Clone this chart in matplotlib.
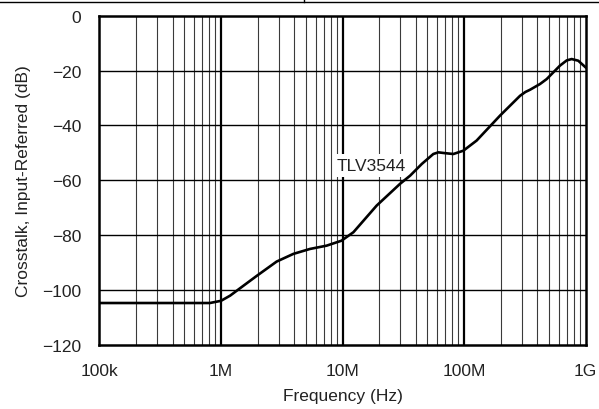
import matplotlib.pyplot as plt
from matplotlib.lines import Line2D
from matplotlib.ticker import FixedLocator, NullFormatter

plt.rcParams['font.family'] = ['Liberation Sans', 'DejaVu Sans']

# curve (Hz, dB)
freq = [1e5, 3e5, 6e5, 8.1e5, 1.0e6, 1.19e6, 1.53e6, 1.97e6, 2.87e6, 3.94e6, 5.4e6,
        7.4e6, 9.8e6, 1.23e7, 1.91e7, 2.97e7, 3.6e7, 4.5e7, 5.59e7, 6.15e7, 7.0e7,
        8.17e7, 9.87e7, 1.27e8, 1.98e8, 2.89e8, 3.2e8, 3.49e8, 4.22e8, 4.79e8,
        6.16e8, 7.0e8, 7.69e8, 8.71e8, 1e9]
xtalk = [-104.7, -104.7, -104.7, -104.7, -103.9, -102.0, -98.4, -94.8, -89.6, -86.8, -85.0,
         -83.8, -82.0, -78.9, -69.2, -61.3, -58.3, -54.0, -50.4, -49.8, -50.1,
         -50.4, -49.2, -45.5, -36.4, -29.2, -27.8, -27.0, -24.9, -23.1,
         -18.2, -16.3, -15.8, -16.4, -18.8]

xticks = [1e5, 1e6, 1e7, 1e8, 1e9]
xticklabels = ['100k', '1M', '10M', '100M', '1G']
yticks = [0, -20, -40, -60, -80, -100, -120]

txt = '#222222'

fig = plt.figure(figsize=(5.99, 4.10), dpi=100)
ax = fig.add_axes([0.1661, 0.1561, 0.8114, 0.8032])

ax.set_xscale('log')
ax.set_xlim(1e5, 1e9)
ax.set_ylim(-120, 0)

# grid: thin minor verticals, heavy decade lines, horizontal every 20 dB
minors = [m * 10**d for d in range(5, 9) for m in range(2, 10)]
for f in minors:
    ax.axvline(f, color='#3a3a3a', lw=0.8, zorder=1)
for f in xticks[1:-1]:
    ax.axvline(f, color='black', lw=1.6, zorder=2)
for y in yticks[1:-1]:
    ax.axhline(y, color='black', lw=1.0, zorder=2)

ax.plot(freq, xtalk, color='black', lw=1.9, zorder=5, solid_joinstyle='round')

ax.text(1.74e7, -54.7, 'TLV3544', fontsize=12.5, color=txt, ha='center', va='center',
        zorder=4, bbox=dict(facecolor='white', edgecolor='none', pad=3))

for s in ax.spines.values():
    s.set_linewidth(1.8)

ax.xaxis.set_major_locator(FixedLocator(xticks))
ax.xaxis.set_minor_formatter(NullFormatter())
ax.set_xticks(xticks)
ax.set_xticklabels(xticklabels)
ax.set_yticks(yticks)
ax.set_yticklabels([f'\u2212{-v}' if v < 0 else str(v) for v in yticks])
ax.tick_params(axis='both', which='both', length=0, labelsize=12.5, labelcolor=txt)
ax.tick_params(axis='x', pad=13)
ax.tick_params(axis='y', pad=13)

ax.set_xlabel('Frequency (Hz)', fontsize=12.5, color=txt, labelpad=7)
ax.set_ylabel('Crosstalk, Input-Referred (dB)', fontsize=12.5, color=txt, labelpad=8)

# header rule at the top of the page
fig.add_artist(Line2D([0, 1], [1 - 3.3 / 410] * 2, transform=fig.transFigure,
                      color='black', lw=1.0))
fig.add_artist(Line2D([304 / 599] * 2, [1, 1 - 3.3 / 410], transform=fig.transFigure,
                      color='black', lw=1.0))

fig.savefig('out.png', dpi=100)
